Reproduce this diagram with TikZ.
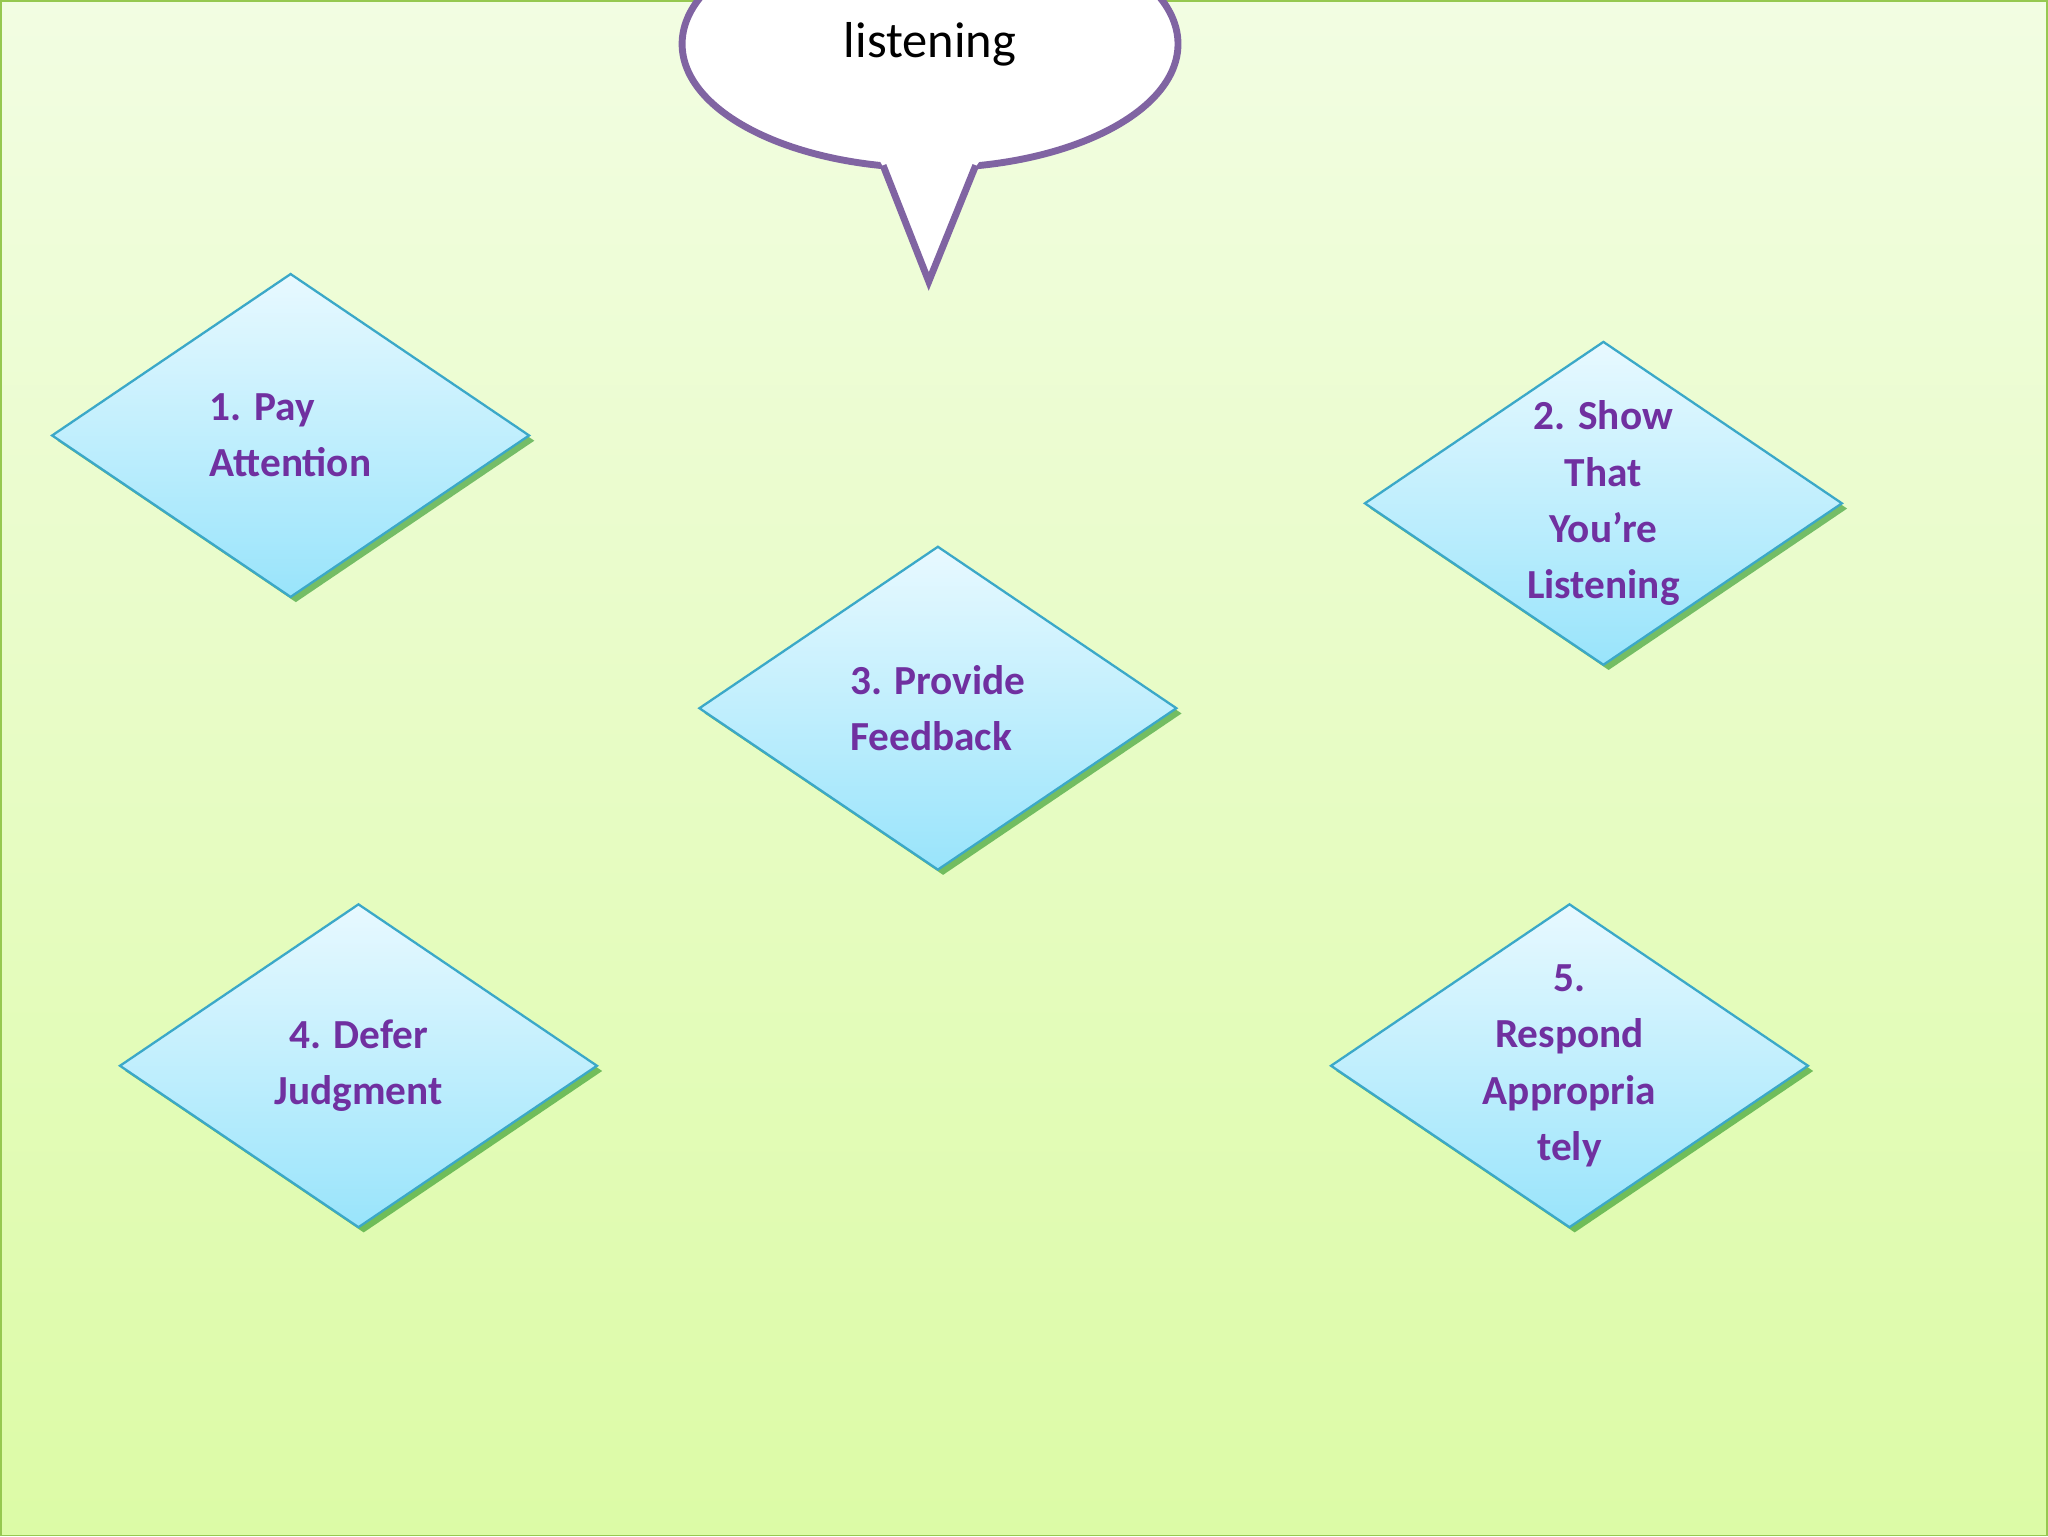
\documentclass[tikz,border=0pt]{standalone}
\usepackage{fontspec}
\setmainfont{Carlito}
\usetikzlibrary{shapes.geometric,shadows}
\definecolor{txt}{HTML}{7030A0}
\definecolor{edge}{HTML}{3BA8C8}
\definecolor{bub}{HTML}{8064A2}
\tikzset{
 dia/.style={diamond,aspect=1.476,minimum width=3.66cm,minimum height=2.48cm,inner sep=0pt,
   draw=edge,line width=0.5pt,top color=white!70!cyan!30,bottom color=cyan!30!white!85!blue!20,
   shading angle=0,drop shadow={shadow xshift=0.04cm,shadow yshift=-0.04cm,opacity=0.5,fill=black!50!green},
   font=\fontsize{9}{12.3}\selectfont\bfseries,text=txt},
}
\definecolor{dtop}{HTML}{E8F9FF}
\definecolor{dbot}{HTML}{99E4FB}
\begin{document}
\begin{tikzpicture}[x=0.01cm,y=-0.01cm]
\shade[top color={rgb,255:red,242;green,253;blue,226},bottom color={rgb,255:red,220;green,251;blue,166},draw={rgb,255:red,150;green,200;blue,80}] (0,0) rectangle (1568,1176);
\useasboundingbox (0,0) rectangle (1568,1176);
% bubble
\draw[bub,line width=1.5pt,fill=white] (712,33) ellipse [x radius=190,y radius=95];
\fill[white] (672,120) -- (676,127) -- (711,215) -- (747,127) -- (752,120) -- cycle;
\draw[bub,line width=1.5pt,line join=miter] (676,126) -- (711,215) -- (747,126);
\node (b) at (712,33) {\fontsize{11}{13}\selectfont listening};
\tikzset{dia/.append style={top color=dtop,bottom color=dbot}}
\node[dia,align=left] (d1) at (222,333) {1. Pay\\Attention};
\node[dia,align=center] (d2) at (1228,385) {2. Show\\That\\You're\\Listening};
\node[dia,align=left] (d3) at (718,542) {3. Provide\\Feedback};
\node[dia,align=center] (d4) at (274,816) {4. Defer\\Judgment};
\node[dia,align=center] (d5) at (1202,816) {5.\\Respond\\Appropria\\tely};
\end{tikzpicture}
\end{document}
